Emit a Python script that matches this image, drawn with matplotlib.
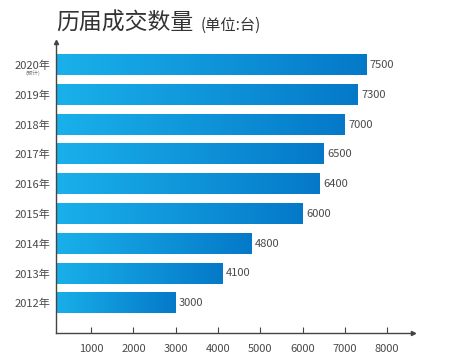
import numpy as np
import matplotlib
matplotlib.use("Agg")
import matplotlib.pyplot as plt
from matplotlib.colors import LinearSegmentedColormap

plt.rcParams['font.family'] = ['Noto Sans CJK SC', 'DejaVu Sans']

years = ["2012年", "2013年", "2014年", "2015年", "2016年", "2017年", "2018年", "2019年", "2020年"]
values = [3000, 4100, 4800, 6000, 6400, 6500, 7000, 7300, 7500]
xticks = [1000, 2000, 3000, 4000, 5000, 6000, 7000, 8000]

fig = plt.figure(figsize=(4.71, 3.59), dpi=100)
ax = fig.add_axes([56 / 471, 26 / 359, 357 / 471, 291 / 359])

cmap = LinearSegmentedColormap.from_list("bar", ["#1ab2ec", "#0579c8"])
grad = np.linspace(0, 1, 256).reshape(1, -1)
h = 0.68
for i, v in enumerate(values):
    ax.imshow(grad, cmap=cmap, aspect="auto", extent=[0, v, i - h / 2, i + h / 2],
              interpolation="bilinear", zorder=2)
    ax.text(v + 80, i, str(v), va="center", ha="left", fontsize=8, color="#4a4a4a")

ax.set_xlim(170, 8610)
ax.set_ylim(-1.0, 8.77)

for s in ["top", "right"]:
    ax.spines[s].set_visible(False)
for s in ["left", "bottom"]:
    ax.spines[s].set_color("#444444")
    ax.spines[s].set_linewidth(1.0)

ax.set_xticks(xticks)
ax.set_xticklabels([str(t) for t in xticks])
ax.set_yticks(range(len(years)))
ax.set_yticklabels(years)
ax.tick_params(axis="x", direction="in", length=4, color="#444444", labelsize=8,
               labelcolor="#4a4a4a", pad=8)
ax.tick_params(axis="y", length=0, labelsize=8, labelcolor="#4a4a4a", pad=4)

# arrowheads
ax.plot(1, 0, ">", transform=ax.transAxes, color="#444444", markersize=3, clip_on=False)
ax.plot(0, 1, "^", transform=ax.transAxes, color="#444444", markersize=3, clip_on=False)

ax.text(-0.045, 8 - 0.28, "(预计)", transform=ax.get_yaxis_transform(),
        ha="right", va="center", fontsize=4, color="#777777")

fig.text(56 / 471, 1 - 23 / 359, "历届成交数量", fontsize=16.5, color="#333333", va="center")
fig.text(201 / 471, 1 - 25 / 359, "(单位:台)", fontsize=11, color="#333333", va="center")

fig.savefig("out.png", dpi=100)
